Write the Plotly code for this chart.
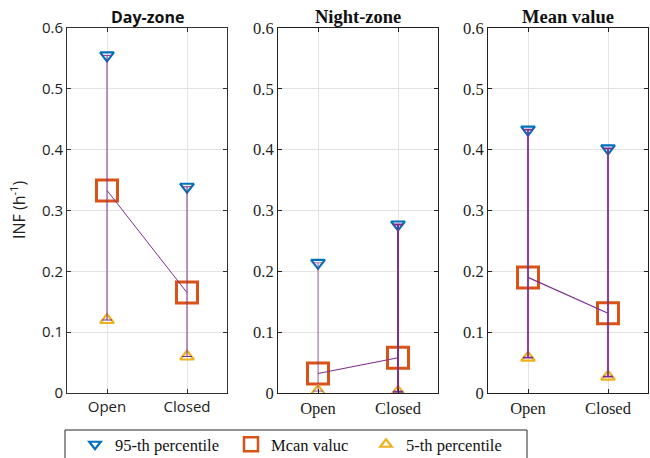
import plotly.graph_objects as go

categories = ["Open", "Closed"]
panel_titles = ["Day-zone", "Night-zone", "Mean value"]
p95 = [[0.555, 0.339], [0.214, 0.277], [0.433, 0.402]]
mean_vals = [[0.333, 0.165], [0.032, 0.058], [0.190, 0.131]]
p5 = [[0.120, 0.060], [0.003, 0.002], [0.058, 0.027]]
y_ticks = [0, 0.1, 0.2, 0.3, 0.4, 0.5, 0.6]
y_tick_text = ["0", "0.1", "0.2", "0.3", "0.4", "0.5", "0.6"]
legend_names = ["95-th percentile", "Mcan valuc", "5-th percentile"]

BLUE = "#0072BD"
ORANGE = "#D95319"
YELLOW = "#EDB120"
PURPLE = "#7E2F8E"

W, H = 650, 458
x_domains = [(67, 227), (278, 438), (488, 648)]
y_top, y_bot = 28, 393

fig = go.Figure()

sans = "Open Sans"
serif = "Liberation Serif"
panel_fonts = [sans, serif, serif]
tick_sizes = [15, 16.5, 16.5]
title_sizes = [16, 18.5, 18.5]
err_styles = [
    [(PURPLE, 1.0), (PURPLE, 1.0)],
    [("rgba(126,47,142,0.45)", 1.6), (PURPLE, 2.0)],
    [(PURPLE, 1.8), (PURPLE, 1.8)],
]
mean_line_w = [1.0, 1.2, 1.2]

for i in range(3):
    xa = "x" if i == 0 else f"x{i+1}"
    ya = "y" if i == 0 else f"y{i+1}"
    fig.add_trace(go.Scatter(x=categories, y=p95[i], mode="markers", xaxis=xa, yaxis=ya,
                             showlegend=False,
                             marker=dict(symbol="triangle-down-open", size=12, color=BLUE,
                                         line=dict(width=2.2, color=BLUE))))
    fig.add_trace(go.Scatter(x=categories, y=mean_vals[i], mode="markers", xaxis=xa, yaxis=ya,
                             showlegend=False,
                             marker=dict(symbol="square-open", size=21, color=ORANGE,
                                         line=dict(width=3, color=ORANGE))))
    fig.add_trace(go.Scatter(x=categories, y=p5[i], mode="markers", xaxis=xa, yaxis=ya,
                             showlegend=False,
                             marker=dict(symbol="triangle-up-open", size=12, color=YELLOW,
                                         line=dict(width=2.2, color=YELLOW))))
    for j, c in enumerate(categories):
        col, w = err_styles[i][j]
        fig.add_trace(go.Scatter(
            x=[c], y=[mean_vals[i][j]], mode="markers", xaxis=xa, yaxis=ya, showlegend=False,
            marker=dict(size=0.1, color="rgba(0,0,0,0)"),
            error_y=dict(type="data", symmetric=False,
                         array=[p95[i][j] - mean_vals[i][j]],
                         arrayminus=[mean_vals[i][j] - p5[i][j]],
                         color=col, thickness=w, width=5),
            hoverinfo="skip"))
    fig.add_trace(go.Scatter(x=categories, y=mean_vals[i], mode="lines", xaxis=xa, yaxis=ya,
                             showlegend=False, line=dict(color=PURPLE, width=mean_line_w[i])))

# legend entries, each in its own legend so they can be placed like the reference
leg_styles = [("triangle-down-open", 10, BLUE, 2.2), ("square-open", 14, ORANGE, 2.5),
              ("triangle-up-open", 10, YELLOW, 2.2)]
leg_refs = ["legend", "legend2", "legend3"]
for name, (sym, sz, col, lw), lg in zip(legend_names, leg_styles, leg_refs):
    fig.add_trace(go.Scatter(x=[None], y=[None], mode="markers", name=name, showlegend=True,
                             legend=lg,
                             marker=dict(symbol=sym, size=sz, color=col, line=dict(width=lw, color=col))))

leg_symbol_px = [97, 253, 388]
layout = dict(
    width=W, height=H,
    margin=dict(l=0, r=0, t=0, b=0, autoexpand=False),
    paper_bgcolor="white", plot_bgcolor="white",
    showlegend=True,
)
for lg, sx in zip(leg_refs, leg_symbol_px):
    layout[lg] = dict(orientation="h", x=(sx - 22) / W, y=1 - 427 / H,
                      xanchor="left", yanchor="top", borderwidth=0, bgcolor="rgba(0,0,0,0)",
                      font=dict(family=serif, size=16.5, color="#111"))

for i in range(3):
    sfx = "" if i == 0 else str(i + 1)
    f = panel_fonts[i]
    x0, x1 = x_domains[i]
    axcol = "#333333" if i == 0 else "#222222"
    layout["xaxis" + sfx] = dict(
        domain=[x0 / W, x1 / W], anchor="y" + sfx, type="category", automargin=False,
        range=[-0.5, 1.5], showgrid=True, gridcolor="#e3e3e3", gridwidth=1,
        showline=True, linecolor=axcol, linewidth=1, mirror="ticks",
        ticks="inside", ticklen=4, tickcolor=axcol,
        tickfont=dict(family=f, size=tick_sizes[i], color="#222"), zeroline=False)
    layout["yaxis" + sfx] = dict(
        domain=[1 - y_bot / H, 1 - y_top / H], anchor="x" + sfx, automargin=False,
        range=[0, 0.6], tickvals=y_ticks, ticktext=y_tick_text,
        showgrid=True, gridcolor="#e3e3e3", gridwidth=1,
        showline=True, linecolor=axcol, linewidth=1, mirror="ticks",
        ticks="inside", ticklen=4, tickcolor=axcol,
        tickfont=dict(family=f, size=tick_sizes[i], color="#222"), zeroline=False)

fig.update_layout(**layout)

# legend frame
fig.add_shape(type="rect", xref="paper", yref="paper",
              x0=65 / W, x1=527 / W, y0=-10 / H, y1=1 - 430 / H,
              line=dict(color="#262626", width=1), fillcolor="rgba(0,0,0,0)", layer="below")

title_x = [147, 358, 568]
for i in range(3):
    fig.add_annotation(text=f"<b>{panel_titles[i]}</b>", x=title_x[i] / W, y=1 - 17 / H,
                       xref="paper", yref="paper", showarrow=False,
                       xanchor="center", yanchor="middle",
                       font=dict(family=panel_fonts[i], size=title_sizes[i], color="#111"))

fig.add_annotation(text="INF (h<sup>-1</sup>)", x=18 / W, y=1 - 210 / H, xref="paper", yref="paper",
                   showarrow=False, textangle=-90, xanchor="center", yanchor="middle",
                   font=dict(family=sans, size=16, color="#222"))

fig.write_html("out.html")
